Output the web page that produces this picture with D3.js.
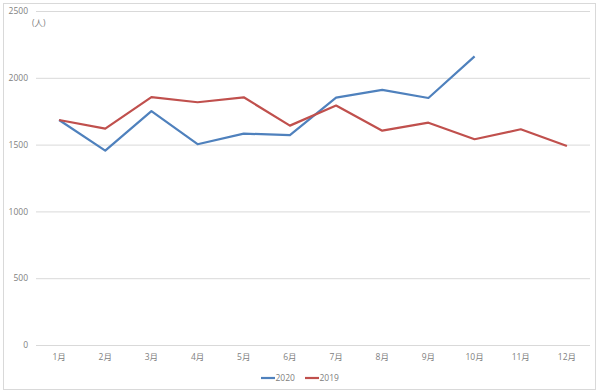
<!DOCTYPE html>
<html><head><meta charset="utf-8">
<script src="https://cdn.jsdelivr.net/npm/d3@7"></script>
<style>body{margin:0;background:#fff}svg{display:block}</style>
</head><body>
<script>
const months = ["1月","2月","3月","4月","5月","6月","7月","8月","9月","10月","11月","12月"];
const s2020 = [1684, 1455, 1751, 1503, 1582, 1571, 1851, 1909, 1849, 2160];
const s2019 = [1684, 1619, 1856, 1817, 1854, 1642, 1792, 1604, 1664, 1540, 1615, 1490];
const yTicks = [0, 500, 1000, 1500, 2000, 2500];
const seriesNames = ["2020", "2019"];
const colors = ["#4f81bd", "#c0504d"];

const W = 600, H = 392;
const svg = d3.select("body").append("svg").attr("width", W).attr("height", H);
const font = "'Open Sans', 'Noto Sans CJK JP', sans-serif";
const txt = "#808080";

svg.append("rect").attr("x", 3.5).attr("y", 3.5).attr("width", 592).attr("height", 386)
  .attr("fill", "#fff").attr("stroke", "#d9d9d9");

const x = d3.scaleBand().domain(months).range([36, 590]);
const y = d3.scaleLinear().domain([0, 2500]).range([345, 11]);

const gy = svg.append("g").attr("transform", "translate(36,0)")
  .call(d3.axisLeft(y).tickValues(yTicks).tickFormat(d3.format("d")).tickSize(-554).tickPadding(8));
gy.select(".domain").remove();
gy.selectAll("line").attr("stroke", "#d9d9d9");
gy.selectAll("text").attr("fill", txt).attr("font-size", 8.5).attr("font-family", font);

const gx = svg.append("g").attr("transform", "translate(0,345)")
  .call(d3.axisBottom(x).tickSize(0).tickPadding(9));
gx.select(".domain").remove();
gx.selectAll("text").attr("fill", txt).attr("font-size", 8.5).attr("font-family", font);

svg.append("text").attr("x", 32).attr("y", 26).text("(人)")
  .attr("fill", txt).attr("font-size", 8.5).attr("font-family", font);

const line = d3.line().x((d, i) => x(months[i]) + x.bandwidth() / 2).y(d => y(d));
[s2020, s2019].forEach((s, k) => {
  svg.append("path").datum(s).attr("d", line).attr("fill", "none")
    .attr("stroke", colors[k]).attr("stroke-width", 2.2).attr("stroke-linejoin", "round");
});

const leg = [{x: 261}, {x: 305}];
seriesNames.forEach((n, k) => {
  const lx = leg[k].x;
  svg.append("line").attr("x1", lx).attr("x2", lx + 14).attr("y1", 378).attr("y2", 378)
    .attr("stroke", colors[k]).attr("stroke-width", 2.2);
  svg.append("text").attr("x", lx + 14.5).attr("y", 381).text(n)
    .attr("fill", txt).attr("font-size", 8.5).attr("font-family", font);
});
</script>
</body></html>
